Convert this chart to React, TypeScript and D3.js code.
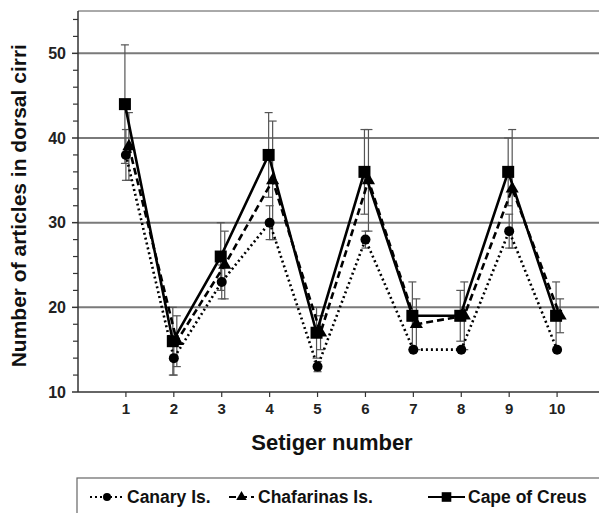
import React from "react";
import * as d3 from "d3";

const setigers = [1, 2, 3, 4, 5, 6, 7, 8, 9, 10];
const canary = [38, 14, 23, 30, 13, 28, 15, 15, 29, 15];
const canarySd = [3, 2, 2, 2, 0.6, 1, 0, 0, 2, 0];
const chafarinas = [39, 16, 25, 35, 17, 35, 18, 19, 34, 19];
const chafarinasSd = [4, 3, 4, 7, 2, 6, 3, 4, 7, 2];
const creus = [44, 16, 26, 38, 17, 36, 19, 19, 36, 19];
const creusSd = [7, 4, 4, 5, 3, 5, 4, 3, 4, 4];
const yTicks = [10, 20, 30, 40, 50];
const gridValues = [20, 30, 40, 50];

const W = 599;
const H = 513;
const FONT = "Liberation Sans, Arial, Helvetica, sans-serif";

const series = [
  { name: "Canary Is.", values: canary, sd: canarySd, dash: "2,3", shift: 0, marker: "circle" },
  { name: "Chafarinas Is.", values: chafarinas, sd: chafarinasSd, dash: "7,4", shift: 3, marker: "triangle" },
  { name: "Cape of Creus", values: creus, sd: creusSd, dash: "", shift: -1, marker: "square" },
];

const Marker: React.FC<{ kind: string; x: number; y: number; k?: number }> = ({ kind, x, y, k = 1 }) => {
  if (kind === "circle") return <circle cx={x} cy={y} r={5 * k} fill="#000" />;
  if (kind === "square") return <rect x={x - 6 * k} y={y - 6 * k} width={12 * k} height={12 * k} fill="#000" />;
  const sym = d3.symbol().type(d3.symbolTriangle).size(75 * k * k)();
  return <path d={sym as string} transform={`translate(${x},${y})`} fill="#000" />;
};

const App: React.FC = () => {
  const x = d3.scaleLinear().domain([0, 11]).range([78, 605]);
  const y = d3.scaleLinear().domain([10, 55]).range([392, 11]);
  const minor = d3.range(12, 55, 2).filter((v) => v % 10 !== 0);

  const legend = [
    { s: series[0], x0: 90, x1: 124, tx: 127 },
    { s: series[1], x0: 229, x1: 254, tx: 258 },
    { s: series[2], x0: 428, x1: 465, tx: 468 },
  ];

  return (
    <svg
      width={W}
      height={H}
      style={{ position: "absolute", left: 0, top: 0, background: "#fff" }}
      fontFamily={FONT}
    >
      {/* grid */}
      {gridValues.map((v) => (
        <line key={v} x1={78} x2={W} y1={y(v)} y2={y(v)} stroke="#7a7a7a" strokeWidth={2} />
      ))}
      {/* frame */}
      <line x1={78} x2={W} y1={y(55)} y2={y(55)} stroke="#555" strokeWidth={1} />
      <line x1={78} x2={78} y1={y(55)} y2={y(10)} stroke="#333" strokeWidth={1.5} />
      <line x1={78} x2={W} y1={y(10)} y2={y(10)} stroke="#333" strokeWidth={1.5} />

      {/* y ticks */}
      {yTicks.map((v) => (
        <g key={v}>
          <line x1={72} x2={78} y1={y(v)} y2={y(v)} stroke="#333" strokeWidth={1.5} />
          <text x={66} y={y(v)} dy="0.36em" textAnchor="end" fontSize={16} fontWeight="bold" fill="#222">
            {v}
          </text>
        </g>
      ))}
      {minor.map((v) => (
        <line key={v} x1={73} x2={78} y1={y(v)} y2={y(v)} stroke="#333" strokeWidth={1.2} />
      ))}
      {/* x ticks */}
      {setigers.map((s) => (
        <g key={s}>
          <line x1={x(s)} x2={x(s)} y1={y(10)} y2={y(10) + 5} stroke="#333" strokeWidth={1.2} />
          <text x={x(s)} y={y(10) + 22} textAnchor="middle" fontSize={15} fontWeight="bold" fill="#222">
            {s}
          </text>
        </g>
      ))}

      {/* error bars */}
      {series.map((sr) =>
        sr.values.map((v, i) => {
          const cx = x(setigers[i]) + sr.shift;
          const sd = sr.sd[i];
          if (!sd) return null;
          return (
            <g key={sr.name + i} stroke="#555" strokeWidth={1.2}>
              <line x1={cx} x2={cx} y1={y(v + sd)} y2={y(v - sd)} />
              <line x1={cx - 4} x2={cx + 4} y1={y(v + sd)} y2={y(v + sd)} />
              <line x1={cx - 4} x2={cx + 4} y1={y(v - sd)} y2={y(v - sd)} />
            </g>
          );
        })
      )}

      {/* lines */}
      {series.map((sr) => {
        const line = d3
          .line<number>()
          .x((_, i) => x(setigers[i]) + sr.shift)
          .y((v) => y(v));
        return (
          <path
            key={sr.name}
            d={line(sr.values) as string}
            fill="none"
            stroke="#000"
            strokeWidth={2.6}
            strokeDasharray={sr.dash || undefined}
          />
        );
      })}
      {series.map((sr) =>
        sr.values.map((v, i) => (
          <Marker key={sr.name + "m" + i} kind={sr.marker} x={x(setigers[i]) + sr.shift} y={y(v)} />
        ))
      )}

      {/* axis titles */}
      <text x={332} y={450} textAnchor="middle" fontSize={22} fontWeight="bold" fill="#111">
        Setiger number
      </text>
      <text
        transform={`translate(26,${y(32)}) rotate(-90)`}
        textAnchor="middle"
        fontSize={21}
        fontWeight="bold"
        fill="#111"
      >
        Number of articles in dorsal cirri
      </text>

      {/* legend */}
      <rect x={77} y={478} width={W} height={60} fill="none" stroke="#666" strokeWidth={1.2} />
      {legend.map((l) => (
        <g key={l.s.name}>
          <line
            x1={l.x0}
            x2={l.x1}
            y1={497}
            y2={497}
            stroke="#000"
            strokeWidth={2}
            strokeDasharray={l.s.dash || undefined}
          />
          <Marker kind={l.s.marker} x={(l.x0 + l.x1) / 2} y={497} k={0.8} />
          <text x={l.tx} y={497} dy="0.36em" fontSize={17.5} fontWeight="bold" fill="#111">
            {l.s.name}
          </text>
        </g>
      ))}
    </svg>
  );
};

export default App;
